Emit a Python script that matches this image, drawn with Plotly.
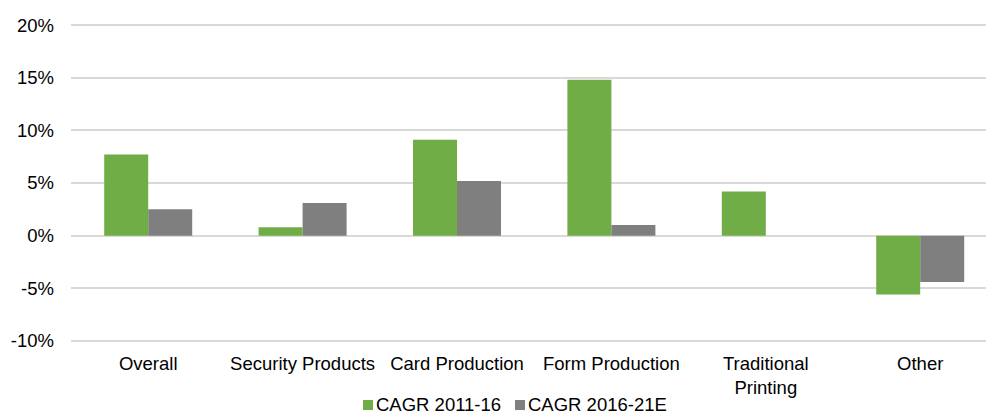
import plotly.graph_objects as go

categories = ["Overall", "Security Products", "Card Production", "Form Production",
              "Traditional<br>Printing", "Other"]
cagr_2011_16 = [7.7, 0.8, 9.1, 14.8, 4.2, -5.6]
cagr_2016_21 = [2.5, 3.1, 5.2, 1.0, 0.0, -4.4]
y_ticks = [-10, -5, 0, 5, 10, 15, 20]
series_names = ["CAGR 2011-16", "CAGR 2016-21E"]

GREEN = "#70AD47"
GRAY = "#7F7F7F"
FONT = dict(family="Liberation Sans, Arial, sans-serif", size=18.5, color="#000000")

W, H = 986, 416
ML, MR, MT, MB = 71, 0, 24, 74
PW, PH = W - ML - MR, H - MT - MB

fig = go.Figure()
for name, vals, col in zip(series_names, [cagr_2011_16, cagr_2016_21], [GREEN, GRAY]):
    fig.add_trace(go.Bar(x=list(range(len(categories))), y=vals, name=name,
                         marker=dict(color=col, line=dict(width=0)), showlegend=False))


def px_x(px):
    return (px - ML) / PW


def px_y(py):
    return (H - MB - py) / PH


# Compact legend row under the axis: colour square followed by its label
legend_items = [(series_names[0], GREEN, 363), (series_names[1], GRAY, 515)]
for name, col, left in legend_items:
    fig.add_shape(type="rect", xref="paper", yref="paper",
                  x0=px_x(left), x1=px_x(left + 10), y0=px_y(410), y1=px_y(400),
                  fillcolor=col, line=dict(width=0))
    fig.add_annotation(text=name, xref="paper", yref="paper", x=px_x(left + 12),
                       y=px_y(404.5), xanchor="left", yanchor="middle", showarrow=False,
                       font=FONT, borderpad=0)

fig.update_layout(
    width=W, height=H,
    margin=dict(l=ML, r=MR, t=MT, b=MB, autoexpand=False),
    paper_bgcolor="white", plot_bgcolor="white",
    font=FONT,
    barmode="group", bargap=0.43, bargroupgap=0,
    showlegend=False,
)
fig.update_xaxes(
    tickmode="array", tickvals=list(range(len(categories))), ticktext=categories,
    range=[-0.5, -0.5 + PW / 154.4], showgrid=False, zeroline=False, showline=False,
    ticks="", ticklabelstandoff=8, automargin=False,
)
fig.update_yaxes(
    range=[-10.1, 20.1], tickmode="array", tickvals=y_ticks,
    ticktext=[f"{v}%" for v in y_ticks],
    showgrid=True, gridcolor="#D9D9D9", gridwidth=1.5,
    zeroline=True, zerolinecolor="#D9D9D9", zerolinewidth=1.5,
    showline=False, ticks="", ticklabelstandoff=16, automargin=False,
)

fig.write_html("out.html")
